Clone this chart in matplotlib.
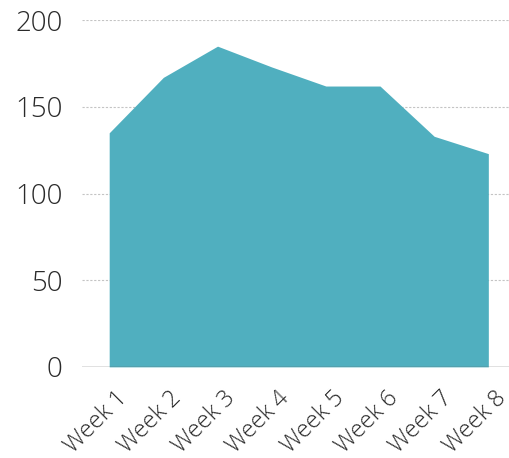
import matplotlib
matplotlib.use("Agg")
import matplotlib.pyplot as plt
import matplotlib.transforms as mtransforms
import numpy as np

weeks = ["Week 1", "Week 2", "Week 3", "Week 4", "Week 5", "Week 6", "Week 7", "Week 8"]
values = [135, 167, 185, 173, 162, 162, 133, 123]
y_ticks = [0, 50, 100, 150, 200]

plt.rcParams['font.family'] = ['Open Sans', 'DejaVu Sans']

fig = plt.figure(figsize=(5.10, 4.58), dpi=100)
ax = fig.add_axes([0.161, 0.199, 0.839, 0.757])

x = np.arange(len(weeks))
ax.fill_between(x, 0, values, color='#50AFBF', linewidth=0, zorder=2)

ax.set_xlim(-0.5, 7.4)
ax.set_ylim(0, 200)
ax.set_yticks(y_ticks)
ax.set_yticklabels([str(t) for t in y_ticks], fontsize=20, color='#2a2a2a',
                   fontweight='light')
ax.set_xticks(x)
ax.set_xticklabels(weeks, rotation=45, ha='right', rotation_mode='anchor',
                   fontsize=17, color='#2a2a2a', fontweight='light')
ax.tick_params(axis='y', length=0, pad=14)
ax.tick_params(axis='x', length=0, pad=4)

# nudge the rotated week labels slightly right and down
shift = mtransforms.ScaledTranslation(6 / 100, -14 / 100, fig.dpi_scale_trans)
for lbl in ax.get_xticklabels():
    lbl.set_transform(lbl.get_transform() + shift)

for t in y_ticks[1:]:
    ax.axhline(t, color='#c4c4c4', linestyle=(0, (2, 1.5)), linewidth=0.8, zorder=1)
ax.axhline(0, color='#666666', linewidth=1.0, zorder=3)

for s in ax.spines.values():
    s.set_visible(False)

fig.savefig("out.png", dpi=100)
